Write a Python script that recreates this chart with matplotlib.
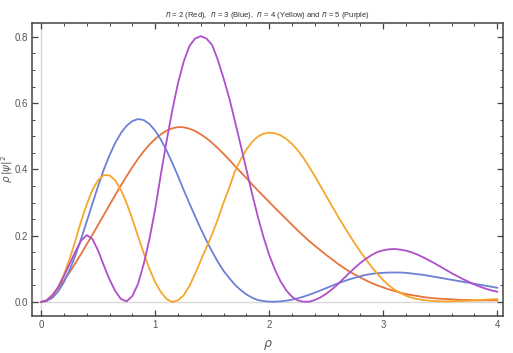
"""Radial probability curves for n = 2..5, redrawn from the reference figure."""

import matplotlib
matplotlib.use("Agg")
import matplotlib.pyplot as plt
import matplotlib.ticker as ticker
import numpy as np

# Sample grid: rho from 0 to 4 in steps of 0.05
rho = np.linspace(0.0, 4.0, 81)

red_n2 = [
    0.000, 0.006, 0.022, 0.042, 0.065, 0.090, 0.117, 0.145, 0.174, 0.203,   # 0.00-0.45
    0.233, 0.263, 0.293, 0.323, 0.352, 0.380, 0.407, 0.432, 0.455, 0.475,   # 0.50-0.95
    0.492, 0.506, 0.517, 0.524, 0.528, 0.527, 0.523, 0.516, 0.506, 0.494,   # 1.00-1.45
    0.480, 0.464, 0.447, 0.429, 0.410, 0.392, 0.374, 0.355, 0.337, 0.319,   # 1.50-1.95
    0.302, 0.284, 0.267, 0.250, 0.233, 0.216, 0.200, 0.184, 0.170, 0.156,   # 2.00-2.45
    0.142, 0.129, 0.116, 0.104, 0.093, 0.083, 0.074, 0.065, 0.057, 0.050,   # 2.50-2.95
    0.044, 0.038, 0.033, 0.028, 0.024, 0.021, 0.018, 0.015, 0.013, 0.011,   # 3.00-3.45
    0.010, 0.009, 0.008, 0.007, 0.006, 0.006, 0.005, 0.005, 0.005, 0.005,   # 3.50-3.95
    0.005,
]

blue_n3 = [
    0.000, 0.003, 0.013, 0.032, 0.060, 0.097, 0.140, 0.190, 0.243, 0.297,
    0.350, 0.400, 0.443, 0.480, 0.510, 0.532, 0.546, 0.552, 0.549, 0.537,
    0.517, 0.490, 0.457, 0.420, 0.380, 0.338, 0.298, 0.259, 0.221, 0.185,
    0.152, 0.121, 0.094, 0.072, 0.052, 0.036, 0.023, 0.013, 0.006, 0.003,
    0.001, 0.001, 0.002, 0.004, 0.007, 0.011, 0.016, 0.022, 0.028, 0.035,
    0.042, 0.049, 0.056, 0.062, 0.068, 0.073, 0.078, 0.082, 0.085, 0.087,
    0.088, 0.089, 0.089, 0.089, 0.088, 0.086, 0.084, 0.082, 0.079, 0.076,
    0.073, 0.070, 0.067, 0.064, 0.061, 0.058, 0.055, 0.052, 0.049, 0.046,
    0.043,
]

yellow_n4 = [
    0.000, 0.005, 0.020, 0.045, 0.083, 0.130, 0.185, 0.243, 0.295, 0.338,
    0.368, 0.383, 0.382, 0.367, 0.338, 0.298, 0.250, 0.198, 0.147, 0.100,
    0.060, 0.030, 0.009, 0.000, 0.005, 0.020, 0.048, 0.085, 0.125, 0.165,
    0.205, 0.250, 0.300, 0.345, 0.395, 0.430, 0.460, 0.483, 0.499, 0.508,
    0.511, 0.509, 0.503, 0.492, 0.477, 0.458, 0.435, 0.408, 0.380, 0.350,
    0.320, 0.290, 0.260, 0.232, 0.204, 0.177, 0.152, 0.128, 0.105, 0.085,
    0.066, 0.050, 0.037, 0.027, 0.019, 0.013, 0.009, 0.006, 0.004, 0.003,
    0.002, 0.002, 0.002, 0.003, 0.003, 0.004, 0.005, 0.006, 0.007, 0.008,
    0.009,
]

purple_n5 = [
    0.000, 0.005, 0.020, 0.045, 0.078, 0.115, 0.152, 0.185, 0.202, 0.190,
    0.155, 0.110, 0.068, 0.033, 0.009, 0.002, 0.018, 0.055, 0.115, 0.190,
    0.280, 0.385, 0.485, 0.578, 0.660, 0.725, 0.772, 0.795, 0.802, 0.795,
    0.775, 0.730, 0.675, 0.615, 0.545, 0.473, 0.400, 0.327, 0.258, 0.196,
    0.142, 0.098, 0.062, 0.035, 0.016, 0.005, 0.001, 0.001, 0.006, 0.014,
    0.025, 0.038, 0.053, 0.070, 0.087, 0.103, 0.118, 0.131, 0.142, 0.151,
    0.156, 0.159, 0.160, 0.158, 0.155, 0.150, 0.143, 0.135, 0.126, 0.117,
    0.107, 0.097, 0.087, 0.078, 0.069, 0.061, 0.053, 0.046, 0.040, 0.035,
    0.031,
]

x_ticks = [0, 1, 2, 3, 4]
y_ticks = [0.0, 0.2, 0.4, 0.6, 0.8]

COLORS = {
    "red": "#E9733F",
    "blue": "#6E80D6",
    "yellow": "#F7A62C",
    "purple": "#AE4FCC",
    "frame": "#444444",
    "text": "#555555",
}

plt.rcParams.update({
    "font.family": "Liberation Sans",
    "mathtext.fontset": "dejavusans",
    "font.size": 7,
    "axes.edgecolor": COLORS["frame"],
    "axes.linewidth": 1.1,
    "xtick.color": COLORS["frame"],
    "ytick.color": COLORS["frame"],
    "xtick.labelcolor": COLORS["text"],
    "ytick.labelcolor": COLORS["text"],
})

fig = plt.figure(figsize=(5.13, 3.53), dpi=100)
ax = fig.add_axes([0.0624, 0.105, 0.918, 0.830])

# light zero axes, Mathematica style
ax.axhline(0, color="#D8D8D8", lw=1.0, zorder=1)
ax.axvline(0, color="#D8D8D8", lw=1.0, zorder=1)

for vals, key in [(red_n2, "red"), (blue_n3, "blue"),
                  (yellow_n4, "yellow"), (purple_n5, "purple")]:
    ax.plot(rho, vals, color=COLORS[key], lw=1.3, zorder=3)

ax.set_xlim(-0.08, 4.05)
ax.set_ylim(-0.042, 0.842)
ax.set_xticks(x_ticks)
ax.set_yticks(y_ticks)
ax.xaxis.set_minor_locator(ticker.MultipleLocator(0.2))
ax.yaxis.set_minor_locator(ticker.MultipleLocator(0.05))
ax.yaxis.set_major_formatter(ticker.FormatStrFormatter("%.1f"))
ax.tick_params(which="both", direction="in", top=True, right=True,
               labeltop=False, labelright=False)
ax.tick_params(which="major", length=4, width=0.9, pad=3)
ax.tick_params(which="minor", length=2, width=0.7)

ax.set_xlabel(r"$\rho$", color=COLORS["text"], fontsize=9, labelpad=6)
ax.set_ylabel(r"$\rho\,|\psi|^2$", color=COLORS["text"], fontsize=7.5,
              va="center")
ax.yaxis.set_label_coords(-0.053, 0.5)
ax.set_title(r"$n$ = 2 (Red),  $n$ = 3 (Blue),  $n$ = 4 (Yellow) and $n$ = 5 (Purple)",
             fontsize=5.5, color="#333333", pad=4)

fig.savefig("out.png", dpi=100)
plt.close(fig)
